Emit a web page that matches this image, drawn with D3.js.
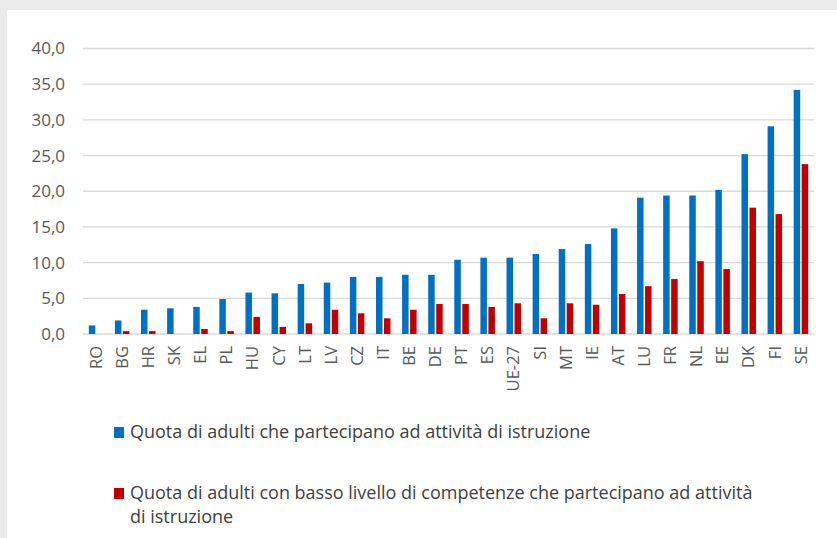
<!DOCTYPE html>
<html>
<head>
<meta charset="utf-8">
<script src="https://cdn.jsdelivr.net/npm/d3@7"></script>
<style>
  html, body { margin: 0; padding: 0; background: #ebebeb; }
  svg { display: block; }
  text { font-family: "Open Sans", sans-serif; }
</style>
</head>
<body>
<svg id="chart" width="837" height="538"></svg>
<script>
const categories = ["RO","BG","HR","SK","EL","PL","HU","CY","LT","LV","CZ","IT","BE","DE","PT","ES","UE-27","SI","MT","IE","AT","LU","FR","NL","EE","DK","FI","SE"];
const adultiPartecipanti = [1.2,1.9,3.4,3.6,3.8,4.9,5.8,5.7,7.0,7.2,8.0,8.0,8.3,8.3,10.4,10.7,10.7,11.2,11.9,12.6,14.8,19.1,19.4,19.4,20.2,25.2,29.1,34.2];
const adultiBassaCompetenza = [0,0.4,0.4,0,0.7,0.4,2.4,1.0,1.5,3.4,2.9,2.2,3.4,4.2,4.2,3.8,4.3,2.2,4.3,4.1,5.6,6.7,7.7,10.2,9.1,17.7,16.8,23.8];
const yTicks = [0,5,10,15,20,25,30,35,40];
const seriesNames = [
  "Quota di adulti che partecipano ad attività di istruzione",
  "Quota di adulti con basso livello di competenze che partecipano ad attività di istruzione"
];
const seriesColors = ["#0070c0", "#c00000"];

const svg = d3.select("#chart");
svg.append("rect").attr("x", 7).attr("y", 10).attr("width", 830).attr("height", 528).attr("fill", "#ffffff");

const x = d3.scaleBand().domain(categories).range([83, 814]).paddingInner(0).paddingOuter(0);
const x1 = d3.scaleBand().domain([0, 1]).range([5.8, 20.3]).paddingInner(0.1875).paddingOuter(0);
const y = d3.scaleLinear().domain([0, 40]).range([334, 48.5]);

// gridlines
svg.append("g").selectAll("line").data(yTicks).join("line")
  .attr("x1", 83).attr("x2", 814)
  .attr("y1", d => y(d)).attr("y2", d => y(d))
  .attr("stroke", "#d9d9d9").attr("stroke-width", 1.3);

// y axis labels
const fmt = d => d3.format(".1f")(d).replace(".", ",");
const yAxis = d3.axisLeft(y).tickValues(yTicks).tickFormat(fmt).tickSize(0).tickPadding(0);
const gy = svg.append("g").attr("transform", "translate(65,0)").call(yAxis);
gy.select(".domain").remove();
gy.selectAll("text").attr("fill", "#595959").style("font-size", "17px").attr("font-family", "Open Sans, sans-serif");

// bars
const series = [adultiPartecipanti, adultiBassaCompetenza];
series.forEach((vals, si) => {
  svg.append("g").selectAll("rect").data(categories).join("rect")
    .attr("x", (c) => x(c) + x1(si))
    .attr("width", x1.bandwidth())
    .attr("y", (c, i) => y(vals[i]))
    .attr("height", (c, i) => y(0) - y(vals[i]))
    .attr("fill", seriesColors[si]);
});

// x axis labels
const xAxis = d3.axisBottom(x).tickSize(0).tickPadding(0);
const gx = svg.append("g").attr("transform", "translate(0,346)").call(xAxis);
gx.select(".domain").remove();
gx.selectAll(".tick").attr("transform", d => `translate(${x(d) + 13},0)`);
gx.selectAll("text")
  .attr("fill", "#595959").style("font-size", "16.5px").attr("font-family", "Open Sans, sans-serif")
  .attr("transform", "rotate(-90)")
  .attr("text-anchor", "end").attr("dy", "0.35em").attr("x", 0).attr("y", 0);

// legend
const legendTop = [432, 493];
const legendWrap = 640;
seriesNames.forEach((name, i) => {
  const g = svg.append("g");
  g.append("rect").attr("x", 114).attr("y", legendTop[i] - 5).attr("width", 10).attr("height", 11).attr("fill", seriesColors[i]);
  const t = g.append("text").attr("x", 130).attr("y", legendTop[i] + 6)
    .attr("fill", "#404040").style("font-size", "18px");
  const words = name.split(" ");
  let line = [];
  let tspan = t.append("tspan").attr("x", 130).attr("dy", 0);
  words.forEach(w => {
    line.push(w);
    tspan.text(line.join(" "));
    if (tspan.node().getComputedTextLength() > legendWrap && line.length > 1) {
      line.pop();
      tspan.text(line.join(" "));
      line = [w];
      tspan = t.append("tspan").attr("x", 130).attr("dy", "24px").text(w);
    }
  });
});
</script>
</body>
</html>
